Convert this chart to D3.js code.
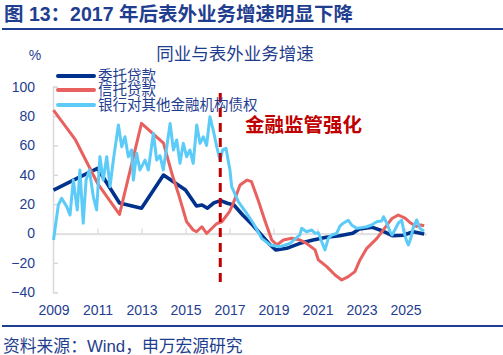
<!DOCTYPE html>
<html><head><meta charset="utf-8">
<script src="https://cdn.jsdelivr.net/npm/d3@7/dist/d3.min.js"></script>
<style>
body{margin:0;background:#fff;}
svg{display:block;font-family:"Liberation Sans",Arial,"Noto Sans CJK SC",sans-serif;}
</style></head><body>
<svg id="c" width="503" height="355"></svg>
<script>
const seriesNames = ["委托贷款","信托贷款","银行对其他金融机构债权"];
const seriesColors = ["#00318C","#E8615F","#5CCBF7"];

const entrustT = [2009.0,2010.0,2011.0,2012.0,2013.0,2014.0,2015.0,2015.5,2015.75,2016.0,2016.3,2016.6,2016.9,2017.2,2017.6,2018.05,2018.45,2018.85,2019.1,2019.6,2020.2,2020.8,2021.4,2022.0,2022.6,2022.9,2023.5,2024.0,2024.4,2024.9,2025.35,2025.85];
const entrustV = [29.6,37,44.4,20.8,17.2,39.8,29.6,18.7,19.4,17.2,21,22.4,20.6,19.4,12.6,5.8,-1,-7.8,-11.2,-10.1,-6.7,-4.4,-2.6,-1.5,0.1,3,4.2,1.5,-1.5,-1.2,1.2,-0.3];

const trustT = [2009.0,2010.0,2011.0,2012.0,2013.0,2014.0,2014.4,2014.7,2015.05,2015.35,2015.5,2015.74,2015.96,2016.4,2016.65,2017.0,2017.17,2017.48,2017.8,2018.0,2018.3,2018.6,2018.92,2019.15,2019.45,2019.83,2020.2,2020.5,2020.89,2021.04,2021.42,2021.8,2022.1,2022.4,2022.7,2022.93,2023.24,2023.7,2024.07,2024.37,2024.67,2024.98,2025.2,2025.5,2025.7,2025.85];
const trustV = [84,63.7,34.2,13,75,61.5,39.8,26,8,2.4,1.2,4.6,0,6.5,8,14.9,20.6,33,36.4,35.3,22.8,9.2,-4.4,-7.8,-4.4,-3.3,-4.4,-6.7,-11.2,-18,-22.6,-28.3,-31.7,-29.4,-26,-18,-10.1,-3.3,4,10,12.6,10.4,7.5,4.8,5.8,5.3];

const bankT = [2009.0,2009.22,2009.37,2009.6,2009.75,2009.9,2010.08,2010.2,2010.35,2010.48,2010.63,2010.81,2010.96,2011.11,2011.26,2011.42,2011.57,2011.72,2011.95,2012.1,2012.25,2012.4,2012.55,2012.63,2012.78,2012.93,2013.16,2013.31,2013.54,2013.69,2013.84,2013.99,2014.15,2014.3,2014.45,2014.6,2014.75,2014.9,2015.05,2015.2,2015.35,2015.51,2015.66,2015.81,2015.96,2016.11,2016.26,2016.42,2016.57,2016.69,2016.84,2017.02,2017.1,2017.4,2017.78,2018.08,2018.46,2018.84,2019.3,2019.75,2020.2,2020.28,2020.5,2020.74,2020.89,2021.04,2021.19,2021.34,2021.49,2021.65,2021.87,2022.02,2022.17,2022.4,2022.55,2022.78,2023.0,2023.24,2023.46,2023.69,2023.92,2024.0,2024.15,2024.3,2024.39,2024.52,2024.67,2024.83,2024.93,2025.05,2025.13,2025.24,2025.35,2025.51,2025.66,2025.84];
const bankV = [-4.4,19.4,24,18.3,12.6,36.4,16,43.3,7,36.4,43.3,25,16,52.3,36.4,52.3,31.9,50,73.9,59.1,65.9,52.3,56.9,36.4,54.6,43.3,50,43.3,68.3,50,53,43.3,59.1,75,56.9,63.7,47.8,61.4,52.3,56.9,47.8,73.9,61.4,65.9,60,79.6,70.5,59.1,50,56.9,58,43.3,31.9,21.7,13.7,7,-3.3,-7.8,-9,-6.7,-1,3.5,1.2,2.4,0.1,0.5,-5.6,-11.2,-3.3,-1,0,5,7,9,5.8,3.5,4,4.6,5.8,8,8.5,11.4,7,1.2,-1,2.5,7,9,1.2,-5,-7.8,-3.3,4,9.2,3.5,1.5];

const yTicks = [-40,-20,0,20,40,60,80,100];
const xTickYears = [2009,2011,2013,2015,2017,2019,2021,2023,2025];
const policyYear = 2016.58;
const titleText = "图 13：2017 年后表外业务增速明显下降";
const chartTitle = "同业与表外业务增速";
const annotation = "金融监管强化";
const sourceText = "资料来源：Wind，申万宏源研究";

const navy = "#1F3E8F";
const svg = d3.select("#c");
const x = d3.scaleLinear().domain([2009, 2025.9]).range([53.5, 425.3]);
const y = d3.scaleLinear().domain([-40, 100]).range([292.2, 86.7]);

// header
svg.append("text").attr("x",4).attr("y",21).attr("font-size",19.5).attr("font-weight","bold")
  .attr("fill",navy).text(titleText);
svg.append("line").attr("x1",2).attr("x2",503).attr("y1",29).attr("y2",29).attr("stroke","#1F3E93").attr("stroke-width",2);
svg.append("line").attr("x1",2).attr("x2",503).attr("y1",326).attr("y2",326).attr("stroke","#1F3E93").attr("stroke-width",2);
svg.append("text").attr("x",3).attr("y",351.5).attr("font-size",16.8).attr("fill",navy).text(sourceText);

svg.append("text").attr("x",235).attr("y",60).attr("text-anchor","middle").attr("font-size",17.5)
  .attr("fill",navy).text(chartTitle);
svg.append("text").attr("x",35).attr("y",60).attr("text-anchor","middle").attr("font-size",14)
  .attr("fill",navy).text("%");

// y axis
const ya = svg.append("g").attr("transform","translate(53,0)")
  .call(d3.axisLeft(y).tickValues(yTicks).tickSize(-5).tickPadding(18).tickFormat(d3.format("d")));
ya.select(".domain").attr("stroke","#D9D9D9").attr("stroke-width",1.5);
ya.selectAll(".tick line").attr("stroke","#D9D9D9").attr("stroke-width",1.5);
ya.selectAll("text").attr("font-size",14).attr("fill",navy).attr("font-family",null);

// zero line with minor monthly ticks and major ticks
const monthTicks = d3.range(2009, 2025.9, 1/12);
const zm = svg.append("g").attr("transform",`translate(0,${y(0)})`)
  .call(d3.axisBottom(x).tickValues(monthTicks).tickSize(2).tickFormat(""));
zm.select(".domain").attr("stroke","#D9D9D9").attr("stroke-width",1.5);
zm.selectAll(".tick line").attr("stroke","#E2E2E2").attr("stroke-width",0.8);
const zM = svg.append("g").attr("transform",`translate(0,${y(0)})`)
  .call(d3.axisBottom(x).tickValues(xTickYears).tickSize(-5).tickFormat(""));
zM.select(".domain").remove();
zM.selectAll(".tick line").attr("stroke","#D9D9D9").attr("stroke-width",1.2);

// x labels
const xa = svg.append("g").attr("transform",`translate(0,${y(-40)})`)
  .call(d3.axisBottom(x).tickValues(xTickYears).tickSize(0).tickPadding(13).tickFormat(d3.format("d")));
xa.select(".domain").remove();
xa.selectAll("text").attr("font-size",14).attr("fill",navy).attr("font-family",null);

// lines
const line = d3.line().x(d=>x(d[0])).y(d=>y(d[1]));
const data = [
  d3.zip(entrustT, entrustV),
  d3.zip(trustT, trustV),
  d3.zip(bankT, bankV)
];
const widths = [3.6,3,3];
data.forEach((d,i)=>{
  svg.append("path").datum(d).attr("d",line).attr("fill","none")
    .attr("stroke",seriesColors[i]).attr("stroke-width",widths[i]).attr("stroke-linejoin","round");
});

// policy line
svg.append("line").attr("x1",x(policyYear)).attr("x2",x(policyYear)).attr("y1",93).attr("y2",287)
  .attr("stroke","#C00000").attr("stroke-width",3).attr("stroke-dasharray","9,6");
svg.append("text").attr("x",245).attr("y",132).attr("font-size",19.5).attr("font-weight","bold")
  .attr("fill","#C00000").text(annotation);

// legend
const legY = [76,90,105];
seriesNames.forEach((n,i)=>{
  svg.append("line").attr("x1",58).attr("x2",94).attr("y1",legY[i]).attr("y2",legY[i])
    .attr("stroke",seriesColors[i]).attr("stroke-width",4).attr("stroke-linecap","round");
  svg.append("text").attr("x",98).attr("y",legY[i]+5).attr("font-size",14.5).attr("fill",navy).text(n);
});
</script>
</body></html>
